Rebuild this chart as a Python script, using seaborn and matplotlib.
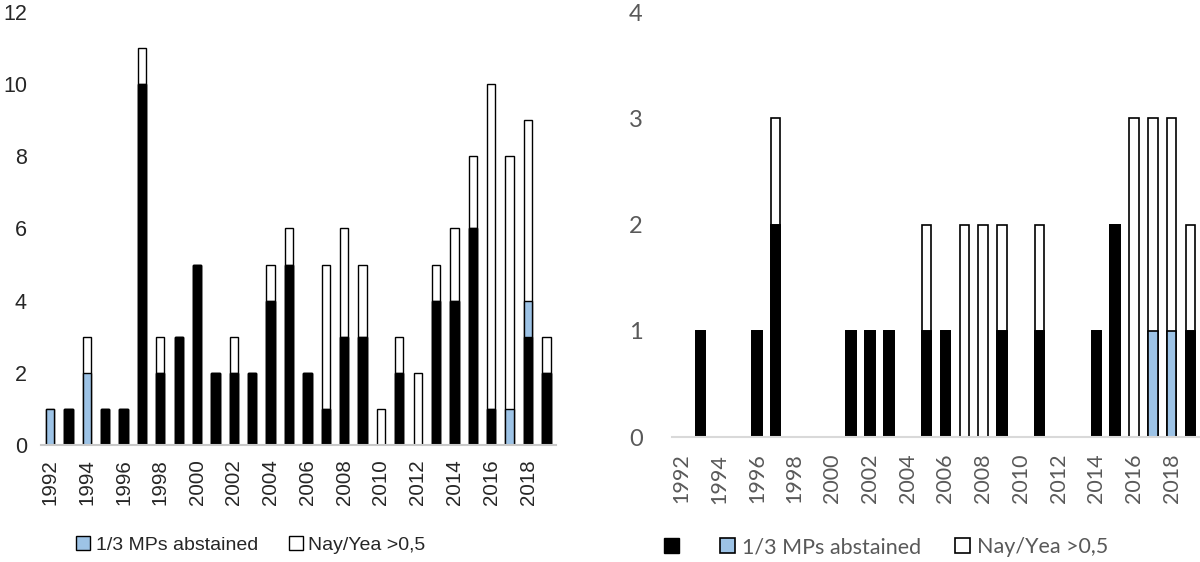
import matplotlib
matplotlib.use("Agg")
import matplotlib.pyplot as plt
from matplotlib.patches import Patch
import pandas as pd
import seaborn as sns

# --------------------------
# Data
# --------------------------
years = [str(y) for y in range(1992, 2020)]

# left panel
left_black = [0, 1, 0, 1, 1, 10, 2, 3, 5, 2, 2, 2, 4, 5, 2, 1, 3, 3, 0, 2, 0, 4, 4, 6, 1, 0, 3, 2]
left_blue = [1, 0, 2, 0, 0, 0, 0, 0, 0, 0, 0, 0, 0, 0, 0, 0, 0, 0, 0, 0, 0, 0, 0, 0, 0, 1, 1, 0]
left_white = [0, 0, 1, 0, 0, 1, 1, 0, 0, 0, 1, 0, 1, 1, 0, 4, 3, 2, 1, 1, 2, 1, 2, 2, 9, 7, 5, 1]

# right panel
right_black = [0, 1, 0, 0, 1, 2, 0, 0, 0, 1, 1, 1, 0, 1, 1, 0, 0, 1, 0, 1, 0, 0, 1, 2, 0, 0, 0, 1]
right_blue = [0, 0, 0, 0, 0, 0, 0, 0, 0, 0, 0, 0, 0, 0, 0, 0, 0, 0, 0, 0, 0, 0, 0, 0, 0, 1, 1, 0]
right_white = [0, 0, 0, 0, 0, 1, 0, 0, 0, 0, 0, 0, 0, 1, 0, 2, 2, 1, 0, 1, 0, 0, 0, 0, 3, 2, 2, 1]

lab_blue = "1/3 MPs abstained"
lab_white = "Nay/Yea >0,5"
BLUE = "#9dc3e6"

sns.set_style("white")


def stacked(ax, black, blue, white, width, edge_lw):
    df = pd.DataFrame({"year": years, "black": black, "blue": blue, "white": white})
    df["lvl_blue"] = df["black"] + df["blue"]
    df["lvl_white"] = df["lvl_blue"] + df["white"]
    # classic seaborn stacking: tallest layer first
    sns.barplot(data=df, x="year", y="lvl_white", color="white", edgecolor="black",
                linewidth=edge_lw, width=width, saturation=1, ax=ax)
    sns.barplot(data=df, x="year", y="lvl_blue", color=BLUE, edgecolor="black",
                linewidth=edge_lw, width=width, saturation=1, ax=ax)
    sns.barplot(data=df, x="year", y="black", color="black", edgecolor="black",
                linewidth=edge_lw, width=width, saturation=1, ax=ax)
    for p in ax.patches:
        if p.get_height() == 0:
            p.set_visible(False)
    ax.set_xlim(-0.5, len(years) - 0.5)
    ax.set_xticks(range(0, len(years), 2))
    ax.set_xlabel("")
    ax.set_ylabel("")
    for s in ["left", "right", "top"]:
        ax.spines[s].set_visible(False)


fig = plt.figure(figsize=(12, 5.62), dpi=100)

# --------------------------
# Left panel
# --------------------------
axL = fig.add_axes([0.034, 0.208, 0.429, 0.771])
stacked(axL, left_black, left_blue, left_white, 0.45, 1.0)
axL.set_ylim(0, 12)
axL.set_yticks(range(0, 13, 2))
arial = ["Liberation Sans", "DejaVu Sans"]
axL.set_xticklabels(years[::2], rotation=90, family=arial, fontsize=14.8)
axL.set_yticklabels([str(v) for v in range(0, 13, 2)], family=arial, fontsize=15.5)
axL.tick_params(axis="x", length=0, pad=10)
axL.tick_params(axis="y", length=0, pad=10)
axL.spines["bottom"].set_color("#c8c8c8")
axL.spines["bottom"].set_linewidth(1.5)

handlesL = [Patch(facecolor=BLUE, edgecolor="black", linewidth=1),
            Patch(facecolor="white", edgecolor="black", linewidth=1)]
fig.legend(handlesL, [lab_blue, lab_white], loc="center", ncol=2,
           bbox_to_anchor=(251 / 1200, 1 - 545 / 562), frameon=False,
           prop={"family": arial, "size": 14}, handlelength=0.7, handleheight=0.7,
           handletextpad=0.3, columnspacing=1.6)

# --------------------------
# Right panel
# --------------------------
GRAY = "#595959"
axR = fig.add_axes([0.56, 0.2224, 0.44, 0.7562])
stacked(axR, right_black, right_blue, right_white, 0.5, 1.2)
axR.set_ylim(0, 4)
axR.set_yticks(range(0, 5))
calib = ["Lato", "DejaVu Sans"]
axR.set_xticklabels(years[::2], rotation=90, family=calib, fontsize=15.5, color=GRAY)
axR.set_yticklabels([str(v) for v in range(0, 5)], family=calib, fontsize=17, color=GRAY)
axR.tick_params(axis="x", length=0, pad=12)
axR.tick_params(axis="y", length=0, pad=21)
axR.spines["bottom"].set_color("#d9d9d9")
axR.spines["bottom"].set_linewidth(1.5)

handlesR = [Patch(facecolor="black", edgecolor="black", linewidth=1),
            Patch(facecolor=BLUE, edgecolor="black", linewidth=1.2),
            Patch(facecolor="white", edgecolor="black", linewidth=1.2)]
legR = fig.legend(handlesR, ["", lab_blue, lab_white], loc="center", ncol=3,
                  bbox_to_anchor=(886 / 1200, 1 - 547 / 562), frameon=False,
                  prop={"family": calib, "size": 15.5}, handlelength=0.7, handleheight=0.7,
                  handletextpad=0.3, columnspacing=1.6)
for t in legR.get_texts():
    t.set_color(GRAY)

fig.savefig("out.png", dpi=100)
